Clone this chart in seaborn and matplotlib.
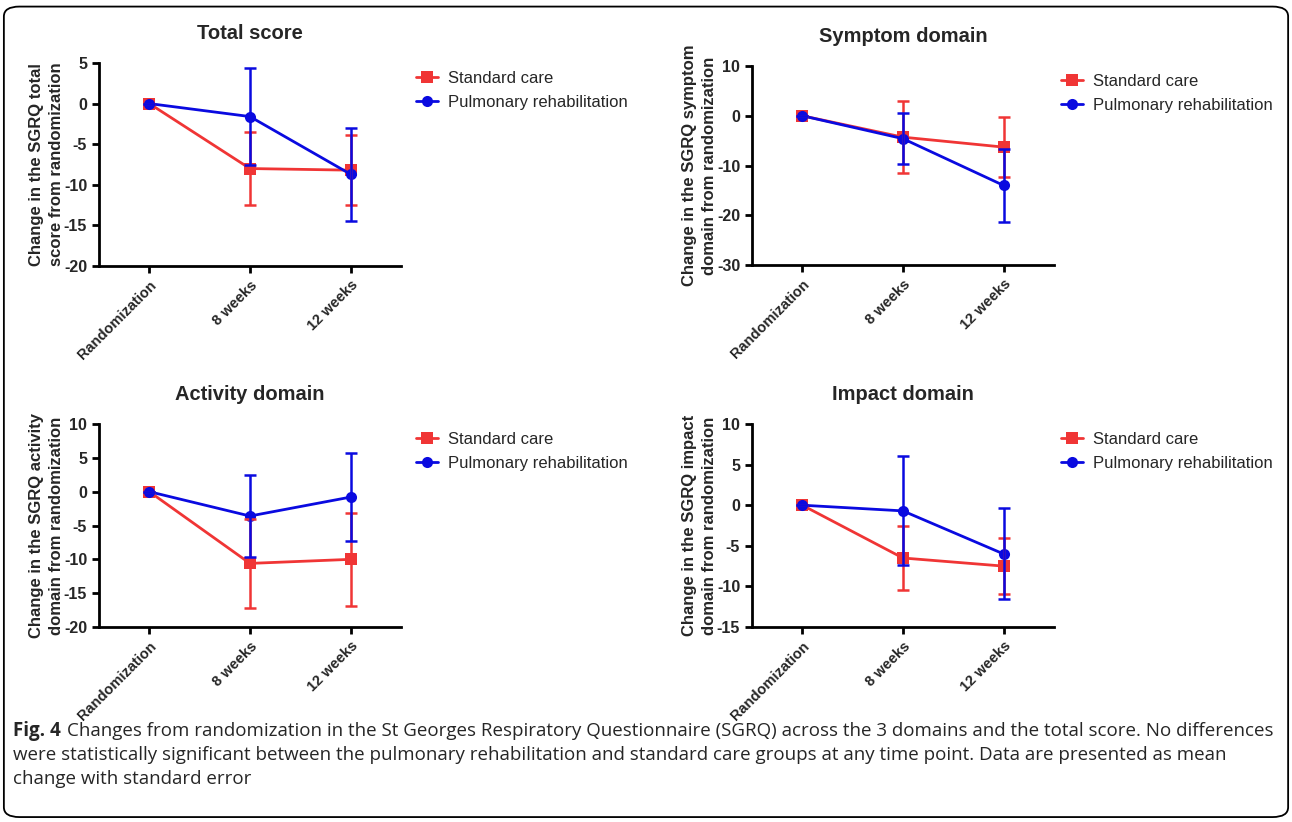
import matplotlib.pyplot as plt
import seaborn as sns
import pandas as pd
from matplotlib.patches import FancyBboxPatch

timepoints = ["Randomization", "8 weeks", "12 weeks"]
groups = ["Standard care", "Pulmonary rehabilitation"]

total_sc = [0, -8.0, -8.2]
total_sc_se = [0, 4.5, 4.3]
total_pr = [0, -1.6, -8.7]
total_pr_se = [0, 6.0, 5.7]

symptom_sc = [0, -4.3, -6.3]
symptom_sc_se = [0, 7.2, 6.0]
symptom_pr = [0, -4.6, -14.0]
symptom_pr_se = [0, 5.1, 7.3]

activity_sc = [0, -10.6, -10.0]
activity_sc_se = [0, 6.6, 6.9]
activity_pr = [0, -3.6, -0.8]
activity_pr_se = [0, 6.1, 6.5]

impact_sc = [0, -6.5, -7.5]
impact_sc_se = [0, 3.9, 3.4]
impact_pr = [0, -0.7, -6.0]
impact_pr_se = [0, 6.7, 5.6]

panels = [
    ("Total score", "Change in the SGRQ total\nscore from randomization",
     total_sc, total_sc_se, total_pr, total_pr_se, (-20, 5), 5),
    ("Symptom domain", "Change in the SGRQ symptom\ndomain from randomization",
     symptom_sc, symptom_sc_se, symptom_pr, symptom_pr_se, (-30, 10), 10),
    ("Activity domain", "Change in the SGRQ activity\ndomain from randomization",
     activity_sc, activity_sc_se, activity_pr, activity_pr_se, (-20, 10), 5),
    ("Impact domain", "Change in the SGRQ impact\ndomain from randomization",
     impact_sc, impact_sc_se, impact_pr, impact_pr_se, (-15, 10), 5),
]

caption_bold = "Fig. 4"
caption_lines = [
    "Changes from randomization in the St Georges Respiratory Questionnaire "
    "(SGRQ) across the 3 domains and the total score. No differences",
    "were statistically significant between the pulmonary rehabilitation "
    "and standard care groups at any time point. Data are presented as mean",
    "change with standard error",
]

# axes boxes in figure fractions (left, bottom, width, height)
boxes = [
    (0.0766, 0.6764, 0.2337, 0.247),
    (0.582, 0.6776, 0.2337, 0.2421),
    (0.0766, 0.2372, 0.2337, 0.247),
    (0.582, 0.2372, 0.2337, 0.247),
]
legend_x = [1.0, 0.975, 1.0, 0.975]

RED = "#f03535"
BLUE = "#0a0ae0"

sns.set_style("ticks")
plt.rcParams["font.family"] = ["Liberation Sans", "DejaVu Sans"]
plt.rcParams["axes.unicode_minus"] = False

fig = plt.figure(figsize=(12.92, 8.22), dpi=100)

for (title, ylabel, sc, sc_se, pr, pr_se, ylim, step), box, lx in zip(panels, boxes, legend_x):
    ax = fig.add_axes(box)

    df = pd.DataFrame({
        "time": timepoints * 2,
        "change": sc + pr,
        "group": [groups[0]] * 3 + [groups[1]] * 3,
    })

    sns.lineplot(
        data=df, x="time", y="change", hue="group", style="group",
        markers={groups[0]: "s", groups[1]: "o"}, dashes=False,
        palette={groups[0]: RED, groups[1]: BLUE},
        markersize=8, linewidth=2, markeredgewidth=0, sort=False, ax=ax
    )

    ax.errorbar(timepoints, sc, yerr=sc_se, fmt="none", ecolor=RED,
                elinewidth=1.8, capsize=4, capthick=1.8)
    ax.errorbar(timepoints, pr, yerr=pr_se, fmt="none", ecolor=BLUE,
                elinewidth=1.8, capsize=4, capthick=1.8)

    ax.set_xlim(-0.5, 2.5)
    ax.set_ylim(*ylim)
    ax.set_yticks(range(ylim[0], ylim[1] + 1, step))
    ax.set_title(title, fontsize=14.5, fontweight="bold", pad=17)
    ax.set_ylabel(ylabel, fontsize=12, fontweight="bold", labelpad=0,
                  linespacing=1.4)
    ax.set_xlabel("")

    for lab in ax.get_yticklabels():
        lab.set_fontweight("bold")
        lab.set_fontsize(11.5)
    for lab in ax.get_xticklabels():
        lab.set_fontweight("bold")
        lab.set_fontsize(10.5)
        lab.set_rotation(45)
        lab.set_ha("right")
        lab.set_rotation_mode("anchor")

    sns.despine(ax=ax)
    for side in ["left", "bottom"]:
        ax.spines[side].set_linewidth(2)
        ax.spines[side].set_color("black")
    ax.tick_params(width=2, length=5, color="black")

    sns.move_legend(ax, "upper left", bbox_to_anchor=(lx, 1.035),
                    frameon=False, title=None, fontsize=12,
                    handlelength=1.3, handletextpad=0.6, labelspacing=0.55)

# frame round the whole figure
fig.add_artist(FancyBboxPatch(
    (0.003, 0.006), 0.994, 0.986, boxstyle="round,pad=0,rounding_size=0.012",
    transform=fig.transFigure, fill=False, edgecolor="black", linewidth=1.3
))

# caption: size it so the first line fills the width as in the original
cap_family = ["Open Sans", "DejaVu Sans"]
x0 = 13 / 1292
line_y = [731, 755, 779]
bold = fig.text(x0, 1 - line_y[0] / 822, caption_bold, fontsize=12,
                fontweight="bold", family=cap_family, va="center")
texts = [fig.text(x0, 1 - y / 822, line, fontsize=12, family=cap_family,
                  va="center") for line, y in zip(caption_lines, line_y)]

fig.canvas.draw()
r = fig.canvas.get_renderer()
gap = 6
w = bold.get_window_extent(r).width + gap + texts[0].get_window_extent(r).width
size = 12 * (1258 - gap) / (w - gap)
bold.set_fontsize(size)
for t in texts:
    t.set_fontsize(size)
fig.canvas.draw()
bx1 = bold.get_window_extent(r).x1
texts[0].set_x((bx1 + gap) / fig.bbox.width)

plt.savefig("out.png", dpi=100)
